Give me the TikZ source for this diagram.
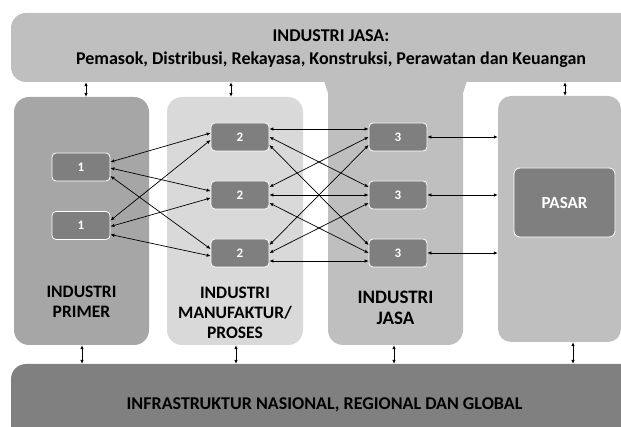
\documentclass[tikz,border=0pt]{standalone}
\usepackage{fontspec}
\setmainfont{Carlito}
\usetikzlibrary{arrows.meta}

\definecolor{bannerfill}{HTML}{BFBFBF}
\definecolor{primerfill}{HTML}{A6A6A6}
\definecolor{manuffill}{HTML}{D9D9D9}
\definecolor{jasafill}{HTML}{BFBFBF}
\definecolor{infrafill}{HTML}{808080}
\definecolor{boxfill}{HTML}{7F7F7F}

\begin{document}
\begin{tikzpicture}[x=1pt,y=-1pt,every text node part/.style={align=center},
column/.style={rounded corners=15pt, inner sep=0pt},
numbox/.style={draw=white, line width=0.8pt, fill=boxfill, rounded corners=4pt, minimum width=58pt, minimum height=28pt, inner sep=0pt, text=white, font=\bfseries\fontsize{13}{15}\selectfont},
label/.style={font=\bfseries\fontsize{17.5}{20}\selectfont},
link/.style={>={Latex[length=4pt,width=3.5pt]}, <->, line width=0.7pt}]
\useasboundingbox (0,0) rectangle (621,427);
\clip (0,0) rectangle (621,427);
% columns
\node [column, fill=jasafill, minimum width=135pt, minimum height=290pt] (jasa) at (395.5,200) {};
\node [column, fill=bannerfill, minimum width=649pt, minimum height=69pt] (top) at (335.5,47.5) {};
\fill [jasafill] (324,81) -- (328,93) -- (328,81) -- cycle;
\fill [jasafill] (467,81) -- (463,93) -- (463,81) -- cycle;
\node [column, fill=primerfill, minimum width=135pt, minimum height=248pt] (primer) at (81.5,221) {};
\node [column, fill=manuffill, minimum width=136pt, minimum height=248pt] (manuf) at (235,221) {};
\node [column, fill=bannerfill, minimum width=123pt, minimum height=246pt, rounded corners=13pt] (pasar) at (559.5,219) {};
\node [column, fill=infrafill, minimum width=649pt, minimum height=76pt] (infra) at (335.5,402) {};
% texts
\node [font=\bfseries\fontsize{18}{23}\selectfont] (toptext) at (331,48.5) {INDUSTRI JASA:\\Pemasok, Distribusi, Rekayasa, Konstruksi, Perawatan dan Keuangan};
\node [font=\bfseries\fontsize{18}{23}\selectfont] (infratext) at (324.5,405) {INFRASTRUKTUR NASIONAL, REGIONAL DAN GLOBAL};
\node [label] (primerlabel) at (81.5,302) {INDUSTRI\\PRIMER};
\node [label] (manuflabel) at (235,312.5) {INDUSTRI\\MANUFAKTUR/\\PROSES};
\node [font=\bfseries\fontsize{19}{21}\selectfont] (jasalabel) at (395.5,307.5) {INDUSTRI\\JASA};
\node [numbox, minimum width=101pt, minimum height=69pt, rounded corners=6pt, font=\bfseries\fontsize{17}{20}\selectfont] (market) at (564.5,202.5) {PASAR};
% small boxes
\node [numbox] (one1) at (81,167) {1};
\node [numbox] (one2) at (81,225.5) {1};
\node [numbox] (two1) at (240,137) {2};
\node [numbox] (two2) at (240,195) {2};
\node [numbox] (two3) at (240,253) {2};
\node [numbox] (three1) at (398,137) {3};
\node [numbox] (three2) at (398,195) {3};
\node [numbox] (three3) at (398,253) {3};
% primer to manufaktur
\draw [link] ([yshift=5pt]one1.east) -- ([yshift=4pt]two1.west);
\draw [link] ([yshift=-1pt]one1.east) -- ([yshift=4pt]two2.west);
\draw [link] ([yshift=-9pt]one1.east) -- ([yshift=4pt]two3.west);
\draw [link] ([yshift=5pt]one2.east) -- ([yshift=-3pt]two1.west);
\draw [link] ([yshift=-1pt]one2.east) -- ([yshift=-3pt]two2.west);
\draw [link] ([yshift=-9pt]one2.east) -- ([yshift=-3pt]two3.west);
% manufaktur to jasa
\draw [link] ([yshift=8pt]two1.east) -- ([yshift=8pt]three1.west);
\draw [link] (two1.east) -- ([yshift=8pt]three2.west);
\draw [link] ([yshift=-8pt]two1.east) -- ([yshift=8pt]three3.west);
\draw [link] ([yshift=8pt]two2.east) -- (three1.west);
\draw [link] (two2.east) -- (three2.west);
\draw [link] ([yshift=-8pt]two2.east) -- (three3.west);
\draw [link] ([yshift=8pt]two3.east) -- ([yshift=-8pt]three1.west);
\draw [link] (two3.east) -- ([yshift=-8pt]three2.west);
\draw [link] ([yshift=-8pt]two3.east) -- ([yshift=-8pt]three3.west);
% jasa to pasar
\draw [link] (three1.east) -- (three1.east -| pasar.west);
\draw [link] (three2.east) -- (three2.east -| pasar.west);
\draw [link] (three3.east) -- (three3.east -| pasar.west);
% banners
\draw [link] ([xshift=4.5pt]primer.north |- top.south) -- ([xshift=4.5pt]primer.north);
\draw [link] ([xshift=-4pt]manuf.north |- top.south) -- ([xshift=-4pt]manuf.north);
\draw [link] ([xshift=5.5pt]pasar.north |- top.south) -- ([xshift=5.5pt]pasar.north);
\draw [link] ([xshift=0.5pt]primer.south) -- ([xshift=0.5pt]primer.south |- infra.north);
\draw [link] ([xshift=1pt]manuf.south) -- ([xshift=1pt]manuf.south |- infra.north);
\draw [link] ([xshift=-1.5pt]jasa.south) -- ([xshift=-1.5pt]jasa.south |- infra.north);
\draw [link] ([xshift=13.5pt]pasar.south) -- ([xshift=13.5pt]pasar.south |- infra.north);
\end{tikzpicture}
\end{document}
